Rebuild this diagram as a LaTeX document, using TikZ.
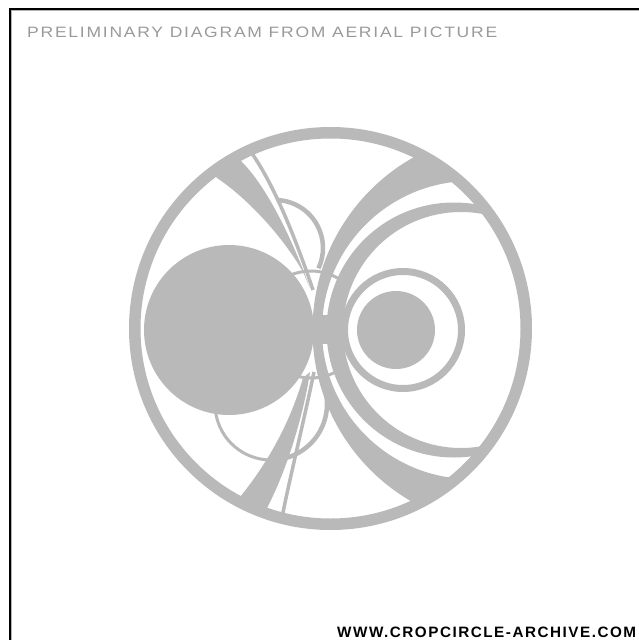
\documentclass[tikz,border=0pt]{standalone}
\usepackage{xcolor}
\usepackage{fontspec}
\setsansfont[LetterSpace=10]{Liberation Sans}
\definecolor{cropgray}{HTML}{B9B9B9}
\definecolor{titlegray}{HTML}{9A9A9A}

\begin{document}
\begin{tikzpicture}[
  x=1pt, y=-1pt,
  crop/.style={fill=cropgray, draw=none},
  path line/.style={draw=cropgray, line width=#1},
  label text/.style={inner sep=0pt, anchor=west, font=\sffamily}
]
  \useasboundingbox (0,0) rectangle (639,640);
  \fill[white] (0,0) rectangle (639,640);
  \draw[black, line width=2pt] (10,640) -- (10,9) -- (639,9);
  \draw[gray!60, line width=0.6pt] (11.5,640) -- (11.5,10.5) -- (639,10.5);

  \node[label text, text=titlegray] (title) at (27,32.5)
    {\resizebox{470pt}{10.5pt}{PRELIMINARY DIAGRAM FROM AERIAL PICTURE}};
  \node[label text, text=black] (site) at (337,632.5)
    {\resizebox{299pt}{10.5pt}{\bfseries WWW.CROPCIRCLE-ARCHIVE.COM}};

  \begin{scope}
    \clip (330.5,328.5) circle (196);
    % right hand crescents
    \fill[crop, even odd rule] (510.5,330) circle (198) (471,330) circle (149);
    \fill[crop, even odd rule] (454,330) circle (127.5) (461,330) circle (118);
    \fill[crop] (320,315) rectangle (342,344);
    % left hand wedges
    \fill[crop] (212,172) -- (217,178) .. controls (250,200) and (285,240) .. (303,272)
      -- (310,288) .. controls (287,225) and (262,182) .. (242,162) -- (237,154) -- cycle;
    \draw[path line=3.5] (251,152) .. controls (272,182) and (292,228) .. (313,290);
    \fill[crop] (234,504) -- (240,497) .. controls (262,470) and (288,430) .. (303,378)
      -- (310,372) .. controls (306,400) and (292,460) .. (267,508) -- (263,516) -- cycle;
    \draw[path line=3.5] (282,518) .. controls (287,490) and (303,425) .. (314,372);
  \end{scope}

  % thin circles
  \draw[path line=4.5] (275,248) ++(-88:48) arc (-88:25:48);
  \draw[path line=3] (271,404) ++(171:56) arc (171:90:56);
  \draw[path line=4.5] (271,404) ++(90:56) arc (90:-20:56);
  \draw[path line=3] (311,324.5) ++(-125:53.5) arc (-125:-55:53.5);
  \draw[path line=3] (311,324.5) ++(125:53.5) arc (125:55:53.5);

  \fill[crop] (229,330) circle (85);
  \fill[crop] (396,330) circle (39);
  \draw[path line=7] (403,330) circle (58.5);
  \draw[path line=11.5] (330.5,328.5) circle (195.75);
\end{tikzpicture}
\end{document}
